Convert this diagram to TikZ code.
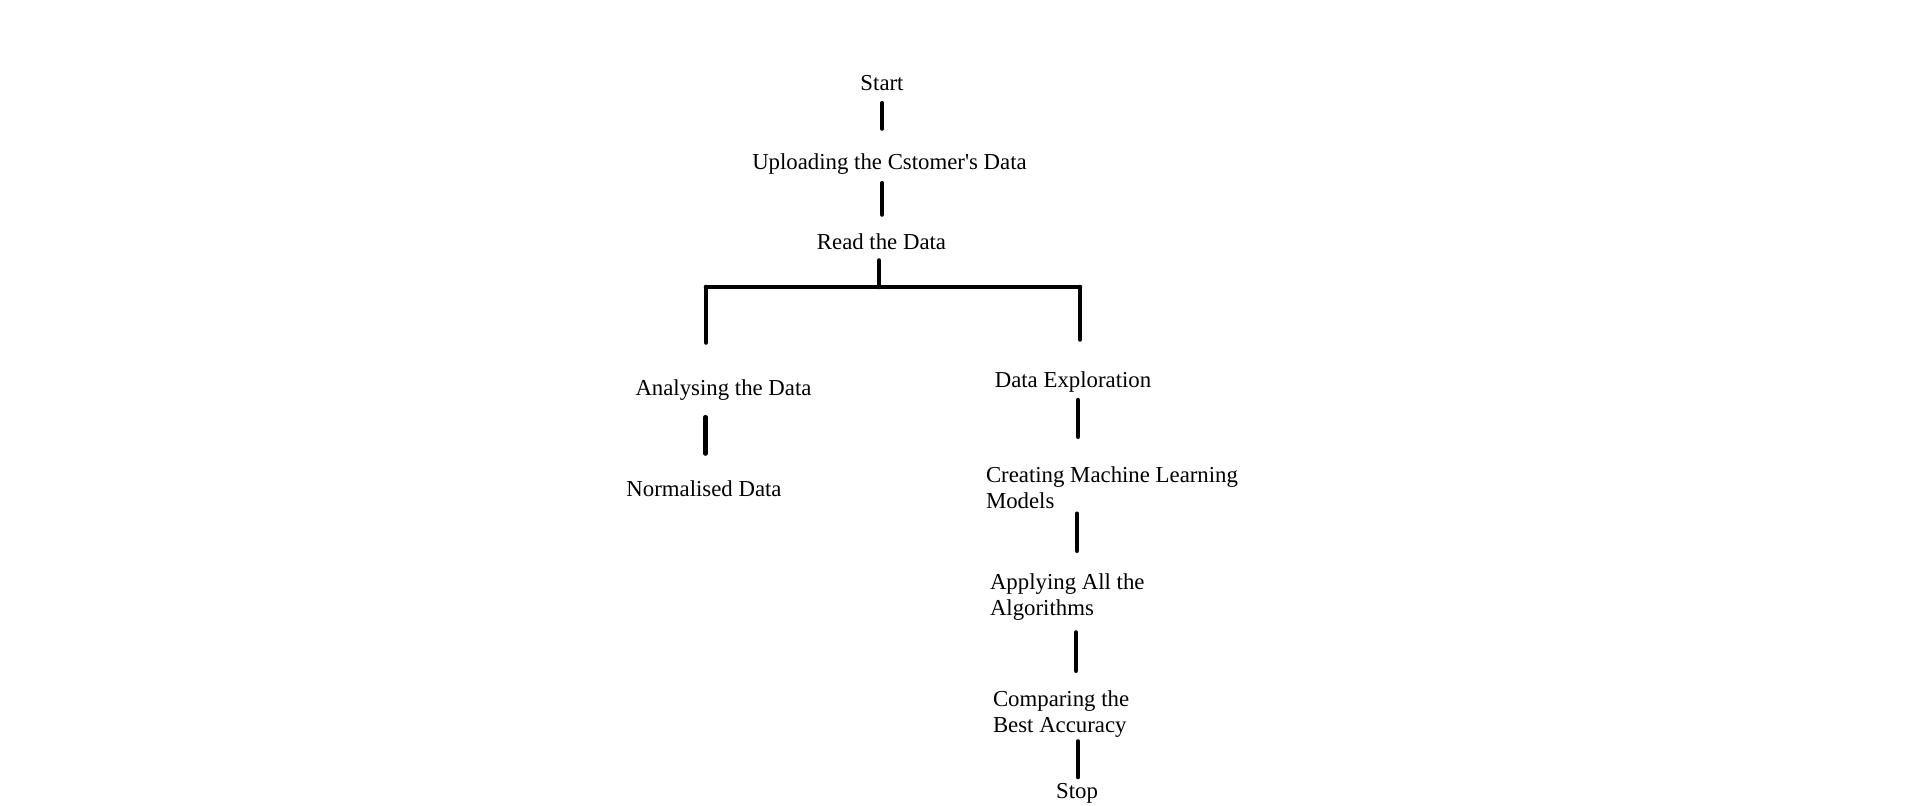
\documentclass[tikz,border=0pt]{standalone}
\usepackage{fontspec}
\setmainfont{Liberation Serif}
\usepackage{tikz}
\usetikzlibrary{positioning, calc}

\begin{document}
\begin{tikzpicture}[
  x=0.5pt, y=-0.5pt,
  txt/.style={inner sep=0pt, outer sep=0pt, font=\fontsize{11.4}{13}\selectfont},
  mid/.style={txt, anchor=base},
  multi/.style={txt, anchor=north west, align=left},
  link/.style={line width=2.3pt, line cap=round},
]
\useasboundingbox (0,0) rectangle (1914,805);
\node[mid]   (start)   at (882, 90)     {Start};
\node[mid]   (upload)  at (889.5, 169)  {Uploading the Cstomer\textquotesingle s Data};
\node[mid]   (read)    at (881.5, 249)  {Read the Data};
\node[mid]   (analyse) at (723.5, 395)  {Analysing the Data};
\node[mid]   (norm)    at (704, 496)    {Normalised Data};
\node[mid]   (explore) at (1073, 387)   {Data Exploration};
\node[multi] (create)  at (986, 466.4)  {Creating Machine Learning\\Models};
\node[multi] (apply)   at (990, 573.4)  {Applying All the\\Algorithms};
\node[multi] (compare) at (993, 690.4)  {Comparing the\\Best Accuracy};
\node[mid]   (stop)    at (1077, 798)   {Stop};
\coordinate (split) at (879, 287);
\coordinate (barL)  at (706, 287);
\coordinate (barR)  at (1080, 287);
% main trunk
\draw[link, shorten <=6.5pt, shorten >=12.35pt] (start.south) -- (start.south |- upload.north);
\draw[link, shorten <=4.65pt, shorten >=9.35pt] (start.south |- upload.south) -- (start.south |- read.north);
\draw[link, shorten <=5.65pt] (read.south -| split) -- (split);
\draw[link] (barL) -- (barR);
\draw[link, shorten >=18.35pt] (barL) -- (barL |- analyse.north);
\draw[link, shorten >=15.85pt] (barR) -- (barR |- explore.north);
% left branch
\draw[link, shorten <=8.65pt, shorten >=13.35pt] (norm.north |- analyse.south) ++(1.5,0) -- ($(norm.north)+(1.5,0)$);
% right branch
\draw[link, shorten <=4.15pt, shorten >=14.85pt] (explore.south -| stop) ++(1,0) -- ($(create.north -| stop)+(1,0)$);
\draw[link, shorten <=2.65pt, shorten >=11.35pt] (create.south -| stop) -- (apply.north -| stop);
\draw[link, shorten <=6.15pt, shorten >=9.85pt] (apply.south -| stop) ++(-1,0) -- ($(compare.north -| stop)+(-1,0)$);
\draw[link, shorten <=2.15pt, shorten >=2.95pt] (compare.south -| stop) ++(1,0) -- ($(stop.north)+(1,0)$);
\end{tikzpicture}
\end{document}
